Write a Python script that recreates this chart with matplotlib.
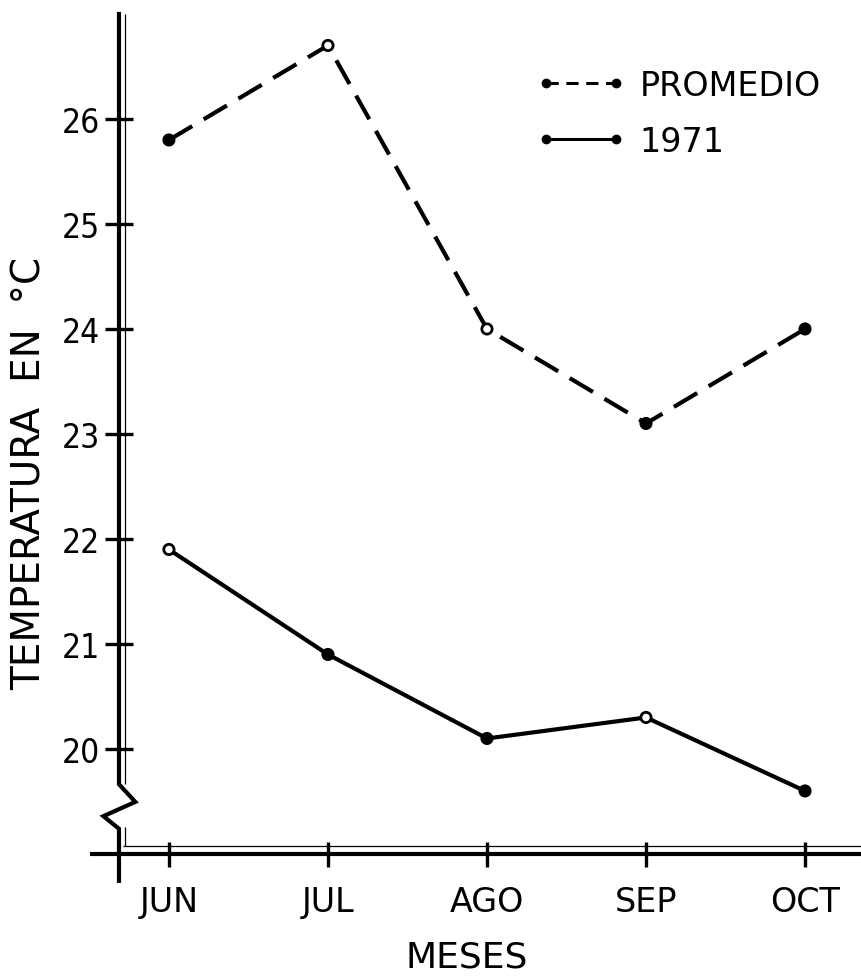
import matplotlib
matplotlib.use("Agg")
import matplotlib.pyplot as plt
from matplotlib.lines import Line2D

meses = ["JUN", "JUL", "AGO", "SEP", "OCT"]
promedio = [25.8, 26.7, 24.0, 23.1, 24.0]
anio_1971 = [21.9, 20.9, 20.1, 20.3, 19.6]
yticks = [20, 21, 22, 23, 24, 25, 26]

# open / filled dots as drawn on the original sheet
caras_prom = ["black", "white", "white", "black", "black"]
caras_1971 = ["white", "black", "black", "white", "black"]

plt.rcParams["font.family"] = ["DejaVu Sans"]

fig = plt.figure(figsize=(8.61, 9.78), dpi=100)
ax = fig.add_axes([0.1382, 0.1258, 0.8618, 0.8589])
x = list(range(len(meses)))

ax.plot(x, promedio, color="black", lw=3, linestyle=(0, (6.5, 3.2)), zorder=3)
ax.plot(x, anio_1971, color="black", lw=3, zorder=3)
ax.scatter(x, promedio, s=55, facecolors=caras_prom, edgecolors="black",
           linewidths=2, zorder=4)
ax.scatter(x, anio_1971, s=55, facecolors=caras_1971, edgecolors="black",
           linewidths=2, zorder=4)

ax.set_xlim(-0.314, 4.352)
ax.set_ylim(19, 27)
ax.set_xticks(x, meses)
ax.set_yticks(yticks)
ax.tick_params(axis="both", direction="inout", width=2.4)
ax.tick_params(axis="y", length=20, pad=4, labelsize=24)
ax.tick_params(axis="x", length=18, pad=13, labelsize=24)
for lab in ax.get_yticklabels():
    lab.set_fontstretch("condensed")
for s in ax.spines.values():
    s.set_visible(False)

# hand-drawn axes: thick line, thin companion line and the break on y
ax.plot([0, 0, 0.022, -0.021, 0, 0], [1.0, 0.083, 0.062, 0.045, 0.030, -0.032],
        lw=3, color="black", solid_joinstyle="miter", transform=ax.transAxes,
        clip_on=False, zorder=5)
kw = dict(transform=ax.transAxes, clip_on=False, color="black",
          solid_capstyle="butt", zorder=5)
ax.plot([0.008, 0.008], [1.0, 0.083], lw=0.9, **kw)
ax.plot([0.008, 0.008], [0.032, 0.0095], lw=0.9, **kw)
ax.plot([-0.039, 1.0], [0, 0], lw=3, **kw)
ax.plot([0.005, 1.0], [0.0095, 0.0095], lw=0.9, **kw)

h_prom = Line2D([], [], color="black", lw=2.2, linestyle=(0, (4, 2.5)),
                marker="o", markersize=6)
h_1971 = Line2D([], [], color="black", lw=2.2, marker="o", markersize=6)
ax.legend([h_prom, h_1971], ["PROMEDIO", "1971"], loc="upper left",
          bbox_to_anchor=(0.562, 0.935), frameon=False, fontsize=24,
          numpoints=2, handlelength=2.7, handletextpad=0.4,
          labelspacing=0.7, borderpad=0, borderaxespad=0)

fig.text(0.542, 0.021, "MESES", fontsize=26, ha="center", va="center")
fig.text(0.034, 0.516, "TEMPERATURA  EN  °C", fontsize=28, rotation=90,
         ha="center", va="center")

fig.savefig("out.png", dpi=100)
